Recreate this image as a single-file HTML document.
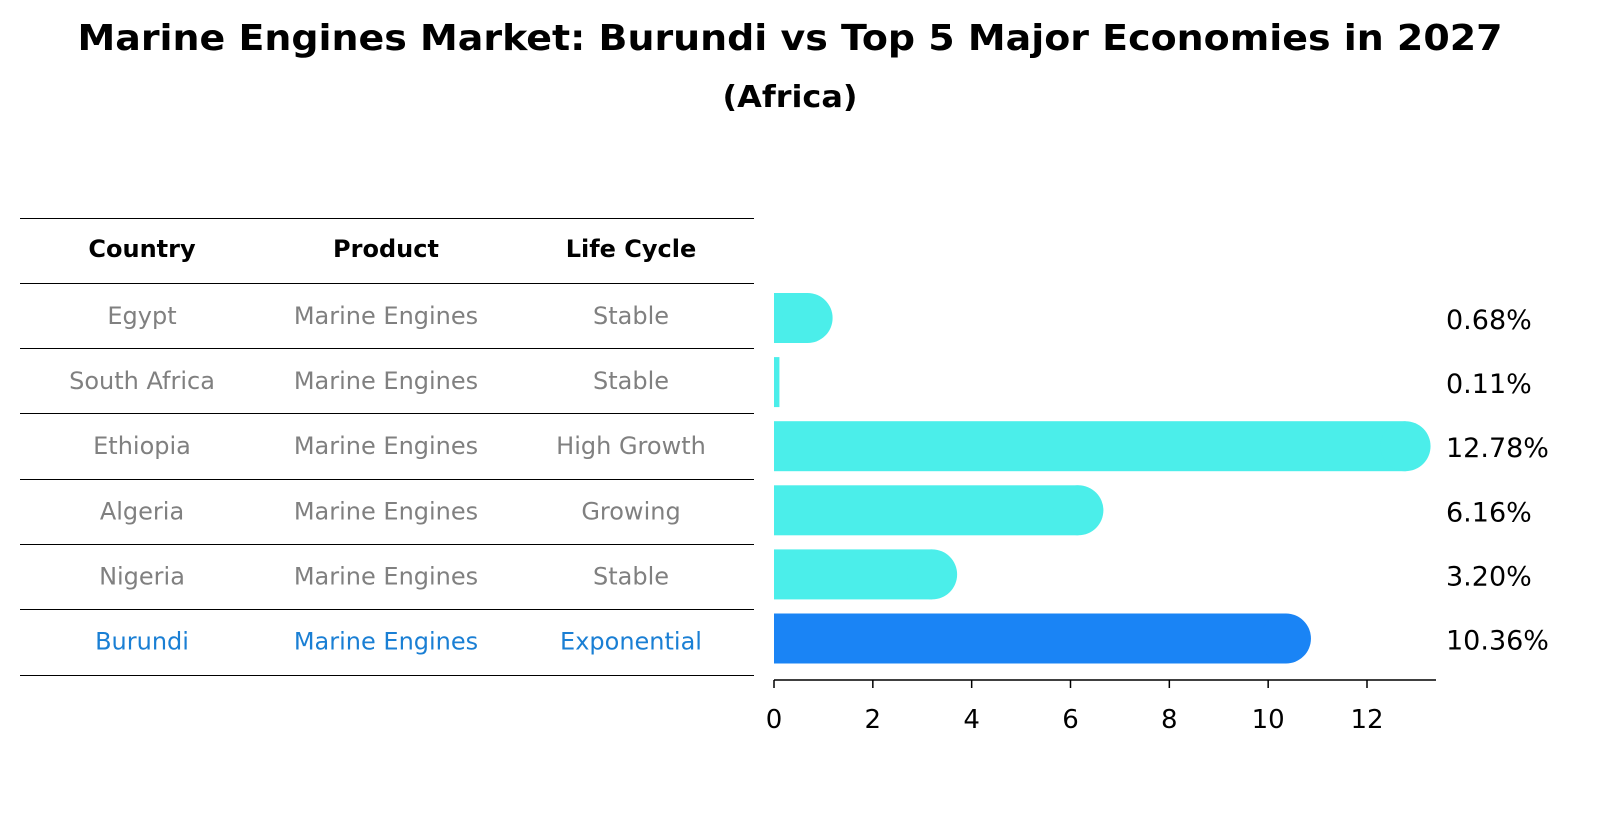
<!DOCTYPE html>
<html><head><meta charset="utf-8"><style>
body{margin:0;background:#fff;font-family:"Liberation Sans","DejaVu Sans",sans-serif;}
svg text{font-family:"DejaVu Sans","Liberation Sans",sans-serif;}
</style></head><body>
<svg id="chart" width="1604" height="823" xmlns="http://www.w3.org/2000/svg">
<text x="790" y="50" text-anchor="middle" font-size="36" font-weight="bold" textLength="1425" lengthAdjust="spacingAndGlyphs">Marine Engines Market: Burundi vs Top 5 Major Economies in 2027</text>
<text x="790" y="107" text-anchor="middle" font-size="30" font-weight="bold" textLength="135" lengthAdjust="spacingAndGlyphs">(Africa)</text>
<g id="table"></g>
<g id="bars"></g>
<g id="axis"></g>
</svg>
<script>
const countries=["Egypt","South Africa","Ethiopia","Algeria","Nigeria","Burundi"];
const products=["Marine Engines","Marine Engines","Marine Engines","Marine Engines","Marine Engines","Marine Engines"];
const lifeCycles=["Stable","Stable","High Growth","Growing","Stable","Exponential"];
const values=[0.68,0.11,12.78,6.16,3.20,10.36];
const valueLabels=["0.68%","0.11%","12.78%","6.16%","3.20%","10.36%"];
const ticks=[0,2,4,6,8,10,12];
const NS="http://www.w3.org/2000/svg";
function mk(tag,attrs,parent,txt){const e=document.createElementNS(NS,tag);for(const k in attrs)e.setAttribute(k,attrs[k]);if(txt!==undefined)e.textContent=txt;parent.appendChild(e);return e;}
const x=v=>774+v*(1367-774)/12;
const rowY=i=>318+i*64.1;
const tbl=document.getElementById('table');
const lineYs=[218,283,348,413,479,544,609,675];
lineYs.forEach((y,i)=>{const l=mk('line',{x1:20,x2:754,y1:y+0.5,y2:y+0.5,stroke:'#000','stroke-width':1},tbl);

});
const colX=[142,386,631];
["Country","Product","Life Cycle"].forEach((h,j)=>{const t=mk('text',{x:colX[j],y:257,'text-anchor':'middle','font-size':24,'font-weight':'bold'},tbl,h);

});
countries.forEach((c,i)=>{const y=315+i*65.1+9;const col=i===5?'#1a7fd4':'#808080';
[c,products[i],lifeCycles[i]].forEach((s,j)=>{const t=mk('text',{x:colX[j],y:y,'text-anchor':'middle','font-size':24,fill:col},tbl,s);

});});
const bars=document.getElementById('bars');
values.forEach((v,i)=>{const cy=rowY(i),h=50,x0=x(0),x1=x(v);const col=i===5?'#1a84f5':'#4beeea';
const g=mk('g',{},bars);


mk('rect',{x:x0,y:cy-h/2,width:Math.max(x1-x0,1),height:h,fill:col},g);
if(x1-x0>25)mk('circle',{cx:x1,cy:cy,r:h/2,fill:col},g);
const t=mk('text',{x:1446,y:cy+11,'font-size':27},g,valueLabels[i]);

});
const ax=document.getElementById('axis');
mk('line',{x1:774,x2:1436,y1:680,y2:680,stroke:'#000','stroke-width':1.5},ax);
ticks.forEach(t=>{mk('line',{x1:x(t),x2:x(t),y1:680,y2:688,stroke:'#000','stroke-width':1.5},ax);
const l=mk('text',{x:x(t),y:728,'text-anchor':'middle','font-size':26},ax,String(t));

});
</script>
</body></html>
